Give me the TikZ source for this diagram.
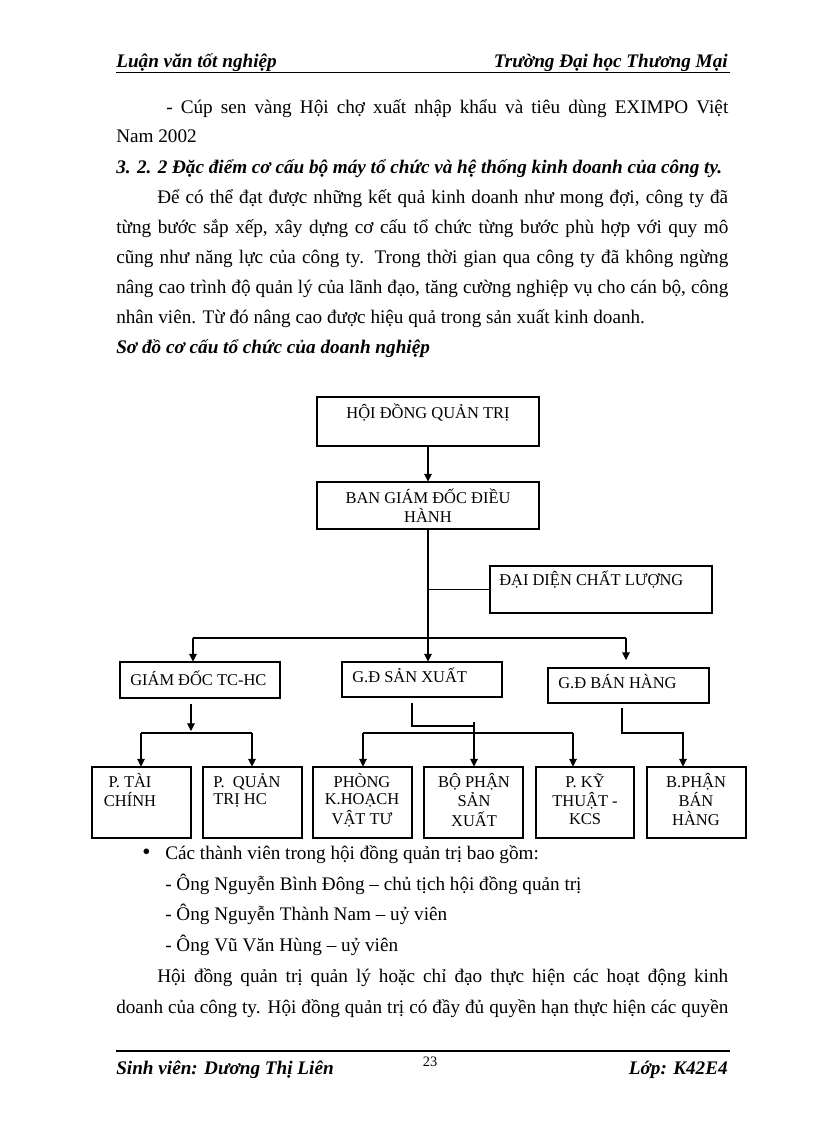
\documentclass[tikz,border=0pt]{standalone}
\usepackage{fontspec}
\setmainfont{Liberation Serif}
\usetikzlibrary{arrows.meta}
\newcommand{\orgbox}[5]{\node[box, minimum width={(#4-#2)*0.7295pt}, minimum height={(#5-#3)*0.7295pt}] (#1) at ({(#2+#4)/2},{(#3+#5)/2}) {};}
\begin{document}
\begin{tikzpicture}[x=0.7295pt,y=-0.7295pt,
  box/.style={draw, line width=0.75pt, inner sep=0pt},
  ln/.style={line width=0.75pt},
  arr/.style={line width=0.75pt, -{Triangle[length=5.5pt,width=5.5pt]}},
  body/.style={font=\fontsize{14}{16}\selectfont, inner sep=0pt, anchor=base west},
  bi/.style={font=\fontsize{14}{16}\selectfont\bfseries\itshape, inner sep=0pt, anchor=base west},
  lbl/.style={font=\fontsize{12}{13}\selectfont, inner sep=0pt, anchor=base},
  rule/.style={line width=1.3pt}]
\useasboundingbox (0,0) rectangle (816,1123);
\fill[white] (0,0) rectangle (816,1123);

% header
\node[bi] (hl) at (116,67) {Luận văn tốt nghiệp};
\node[bi, anchor=base east] (hr) at (728,67) {Trường Đại học Thương Mại};
\draw[rule] (116,72.5) -- (730,72.5);

% text above
\node[body] (p1) at (166,113) {\makebox[410pt][s]{- Cúp sen vàng Hội chợ xuất nhập khẩu và tiêu dùng EXIMPO Việt}};
\node[body] (p2) at (116,142) {Nam 2002};
\node[bi] (h1) at (116,173) {\makebox[442pt][s]{3. 2. 2 Đặc điểm cơ cấu bộ máy tổ chức và hệ thống kinh doanh của công ty.}};
\node[body] (p3) at (157,203) {\makebox[416.5pt][s]{Để có thể đạt được những kết quả kinh doanh như mong đợi, công ty đã}};
\node[body] (p4) at (116,233) {\makebox[446.5pt][s]{từng bước sắp xếp, xây dựng cơ cấu tổ chức từng bước phù hợp với quy mô}};
\node[body] (p5) at (116,263) {\makebox[446.5pt][s]{cũng như năng lực của công ty. Trong thời gian qua công ty đã không ngừng}};
\node[body] (p6) at (116,293) {\makebox[446.5pt][s]{nâng cao trình độ quản lý của lãnh đạo, tăng cường nghiệp vụ cho cán bộ, công}};
\node[body] (p7) at (116,323) {nhân viên. Từ đó nâng cao được hiệu quả trong sản xuất kinh doanh.};
\node[bi] (h2) at (116,353) {Sơ đồ cơ cấu tổ chức của doanh nghiệp};

% boxes
\orgbox{hdqt}{317}{397}{539}{446}
\orgbox{bgd}{317}{482}{539}{529}
\orgbox{ddcl}{490}{566}{712}{613}
\orgbox{tchc}{120}{662}{280}{698}
\orgbox{gdsx}{342}{662}{502}{697}
\orgbox{gdbh}{548}{668}{709}{703}
\orgbox{ptc}{92}{767}{191}{838}
\orgbox{pqt}{203}{767}{302}{838}
\orgbox{pkh}{313}{767}{412}{838}
\orgbox{bpsx}{424}{767}{523}{838}
\orgbox{pkt}{536}{767}{634}{838}
\orgbox{bpbh}{647}{767}{746}{838}

% box texts
\node[lbl] (thdqt) at (428,418) {HỘI ĐỒNG QUẢN TRỊ};
\node[lbl] (tbgd) at (428,503) {\begin{tabular}[t]{@{}c@{}}BAN GIÁM ĐỐC ĐIỀU\\HÀNH\end{tabular}};
\node[lbl, anchor=base west] (tddcl) at (499,585) {ĐẠI DIỆN CHẤT LƯỢNG};
\node[lbl, anchor=base west] (ttchc) at (130,685) {GIÁM ĐỐC TC-HC};
\node[lbl, anchor=base west] (tgdsx) at (352,682) {G.Đ SẢN XUẤT};
\node[lbl, anchor=base west] (tgdbh) at (558,688) {G.Đ BÁN HÀNG};
\node[lbl] (tptc) at (130,787) {\begin{tabular}[t]{@{}c@{}}P. TÀI\\CHÍNH\end{tabular}};
\node[lbl, anchor=base west] (tpqt) at (213,787) {\begin{tabular}[t]{@{}l@{}}P.\ \ QUẢN\\TRỊ HC\end{tabular}};
\node[lbl] (tpkh) at (362,787) {\begin{tabular}[t]{@{}c@{}}PHÒNG\\K.HOẠCH\\VẬT TƯ\end{tabular}};
\node[lbl] (tbpsx) at (474,787) {\begin{tabular}[t]{@{}c@{}}BỘ PHẬN\\SẢN\\XUẤT\end{tabular}};
\node[lbl] (tpkt) at (585,787) {\begin{tabular}[t]{@{}c@{}}P. KỸ\\THUẬT -\\KCS\end{tabular}};
\node[lbl] (tbpbh) at (696,787) {\begin{tabular}[t]{@{}c@{}}B.PHẬN\\BÁN\\HÀNG\end{tabular}};

% connectors
\draw[arr] (hdqt.south) -- (bgd.north);
\coordinate (jC) at (428,638);
\coordinate (jL) at (193,638);
\coordinate (jR) at (626,638);
\coordinate (tipBH) at (626,660);
\draw[ln] (bgd.south) -- (jC);
\draw[ln] (ddcl.west) -- (ddcl.west -| bgd.south);
\draw[ln] (jL) -- (jR);
\draw[arr] (jL) -- (jL |- tchc.north);
\draw[arr] (jC) -- (jC |- gdsx.north);
\draw[arr] (jR) -- (tipBH);

\coordinate (a1) at (191,704);
\coordinate (a2) at (191,731);
\draw[arr] (a1) -- (a2);
\coordinate (hL1) at (141,733);
\coordinate (hR1) at (252,733);
\draw[ln] (hL1) -- (hR1);
\draw[arr] (hL1) -- (hL1 |- ptc.north);
\draw[arr] (hR1) -- (hR1 |- pqt.north);

\coordinate (s1) at (412,703);
\coordinate (s2) at (412,726);
\coordinate (s3) at (474,726);
\coordinate (s4) at (474,722);
\draw[ln] (s1) -- (s2) -- (s3);
\draw[arr] (s4) -- (s4 |- bpsx.north);
\coordinate (hL2) at (363,733);
\coordinate (hR2) at (573,733);
\draw[ln] (hL2) -- (hR2);
\draw[arr] (hL2) -- (hL2 |- pkh.north);
\draw[arr] (hR2) -- (hR2 |- pkt.north);

\coordinate (b1) at (622,708);
\coordinate (b2) at (622,733);
\coordinate (b3) at (683,733);
\draw[arr] (b1) -- (b2) -- (b3) -- (b3 |- bpbh.north);

% text below
\node[body, font=\fontsize{17}{17}\selectfont] (bul) at (142,859) {\textbullet};
\node[body] (q1) at (165,859) {Các thành viên trong hội đồng quản trị bao gồm:};
\node[body] (q2) at (165,890) {- Ông Nguyễn Bình Đông – chủ tịch hội đồng quản trị};
\node[body] (q3) at (165,920) {- Ông Nguyễn Thành Nam – uỷ viên};
\node[body] (q4) at (165,951) {- Ông Vũ Văn Hùng – uỷ viên};
\node[body] (q5) at (157,982) {\makebox[416.5pt][s]{Hội đồng quản trị quản lý hoặc chỉ đạo thực hiện các hoạt động kinh}};
\node[body] (q6) at (116,1013) {\makebox[446.5pt][s]{doanh của công ty. Hội đồng quản trị có đầy đủ quyền hạn thực hiện các quyền}};

% footer
\draw[rule] (116,1051) -- (730,1051);
\node[bi] (fl) at (116,1074) {Sinh viên: Dương Thị Liên};
\node[bi, anchor=base east] (fr) at (728,1074) {Lớp: K42E4};
\node[font=\fontsize{10.5}{12}\selectfont, inner sep=0pt, anchor=base] (pg) at (430,1066) {23};
\end{tikzpicture}
\end{document}
